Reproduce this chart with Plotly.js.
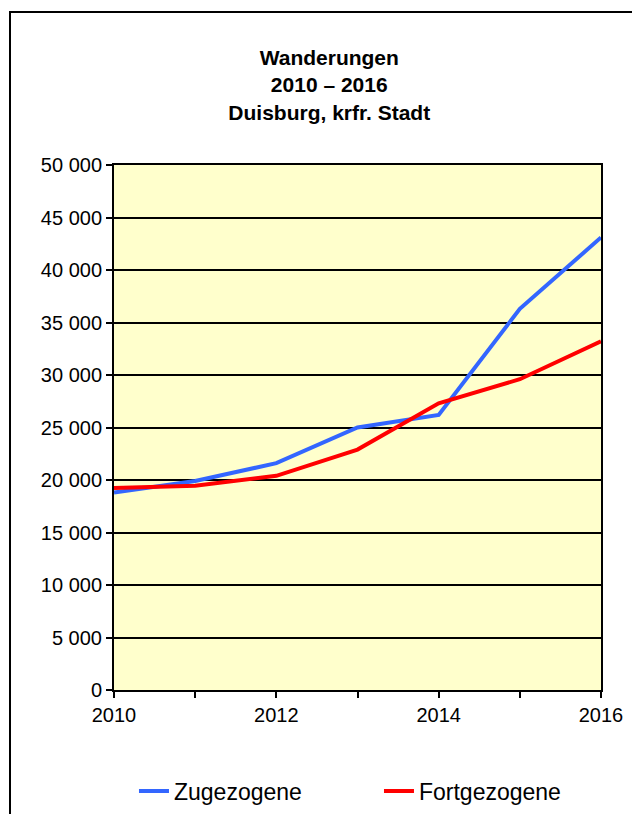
<!DOCTYPE html>
<html>
<head>
<meta charset="utf-8">
<script src="https://cdn.plot.ly/plotly-3.0.1.min.js"></script>
<style>
  html, body { margin:0; padding:0; background:#fff; }
  #chart { width:632px; height:814px; }
</style>
</head>
<body>
<div id="chart"></div>
<script>
// Wanderungen Duisburg 2010-2016
const years = [2010, 2011, 2012, 2013, 2014, 2015, 2016];
const zugezogene = [18800, 19900, 21600, 25000, 26200, 36300, 43100];
const fortgezogene = [19250, 19450, 20400, 22900, 27300, 29600, 33200];
const xTickText = ['2010', '', '2012', '', '2014', '', '2016'];
const yTicks = [0, 5000, 10000, 15000, 20000, 25000, 30000, 35000, 40000, 45000, 50000];

const font = {family: 'Liberation Sans, Arial, sans-serif', color: '#000', size: 20};

const data = [
  {
    x: years, y: zugezogene, name: 'Zugezogene',
    type: 'scatter', mode: 'lines',
    line: {color: '#3366FF', width: 4}
  },
  {
    x: years, y: fortgezogene, name: 'Fortgezogene',
    type: 'scatter', mode: 'lines',
    line: {color: '#FF0000', width: 4}
  }
];

const layout = {
  width: 632, height: 814,
  margin: {l: 114, r: 31, t: 165, b: 124},
  paper_bgcolor: '#fff',
  plot_bgcolor: '#FFFFCC',
  font: font,
  separators: ', ',
  showlegend: true,
  title: {
    text: '<b>Wanderungen<br>2010 – 2016<br>Duisburg, krfr. Stadt</b>',
    x: 0.521, xanchor: 'center',
    y: 0.92, yanchor: 'top',
    font: {family: font.family, size: 21, color: '#000'}
  },
  xaxis: {
    range: [2010, 2016],
    tickvals: years, ticktext: xTickText,
    ticks: 'outside', ticklen: 6, tickwidth: 2, tickcolor: '#000',
    showgrid: false, zeroline: false,
    showline: true, linecolor: '#000', linewidth: 2, mirror: true,
    tickfont: {size: 20}
  },
  yaxis: {
    range: [0, 50000],
    tickvals: yTicks, separatethousands: true, tickformat: ',d',
    ticks: 'outside', ticklen: 6, tickwidth: 2, tickcolor: '#000',
    showgrid: true, gridcolor: '#000', gridwidth: 2,
    zeroline: false,
    showline: true, linecolor: '#000', linewidth: 2, mirror: true,
    tickfont: {size: 20}
  },
  legend: {
    orientation: 'h',
    xref: 'container', yref: 'container',
    x: 0.212, xanchor: 'left',
    y: 1 - 791 / 814, yanchor: 'middle',
    font: {size: 23},
    entrywidth: 200
  },
  shapes: [{
    type: 'rect', xref: 'paper', yref: 'paper',
    x0: (10 - 114) / 487, x1: 1.2,
    y0: -0.3, y1: (690 - 12) / 525,
    line: {color: '#000', width: 2}
  }]
};

Plotly.newPlot('chart', data, layout, {displayModeBar: false, staticPlot: true});
</script>
</body>
</html>
